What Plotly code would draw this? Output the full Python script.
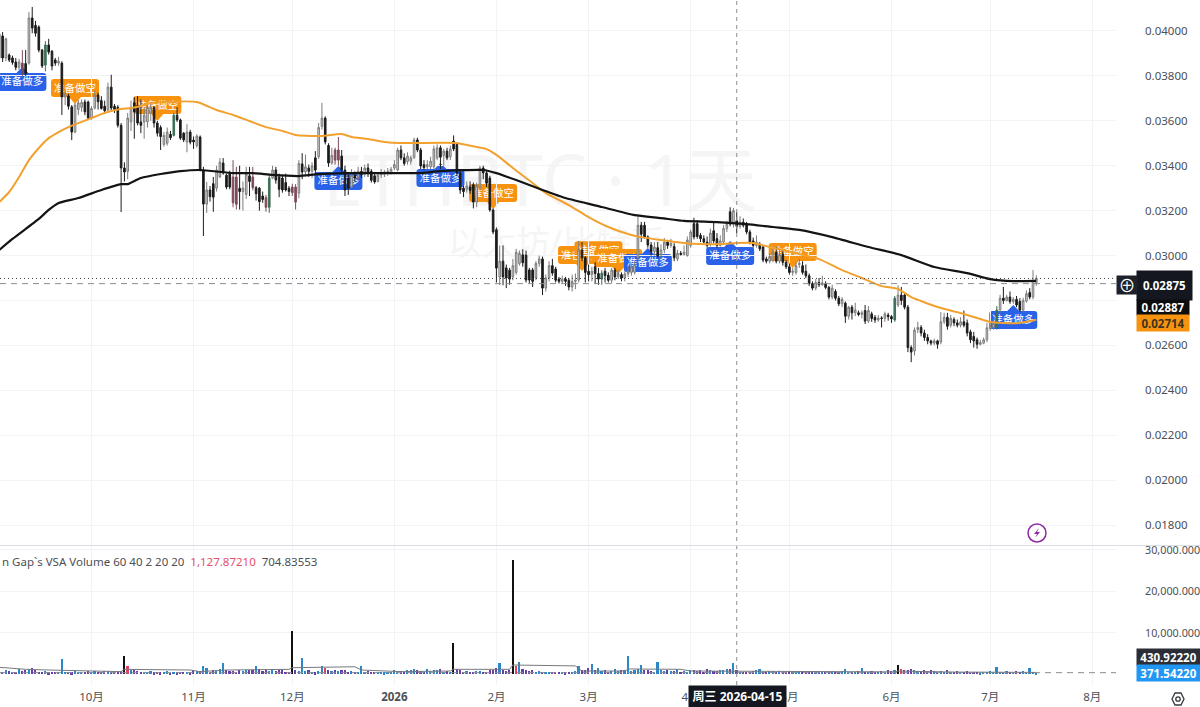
import pandas as pd
import plotly.graph_objects as go

# Daily ETH/BTC candles, quoted in units of 0.00001 BTC, starting 2025-09-03
first_day = "2025-09-03"
price_unit = 1e-5

opens = [
    3880,3978,3880,3893,3880,3862,3838,3857,3855,3857,
    4058,4025,4018,3915,3848,3938,3910,3871,3857,3857,
    3706,3710,3662,3550,3650,3660,3684,3684,3612,3657,
    3715,3690,3665,3648,3750,3665,3660,3580,3390,3375,
    3595,3680,3668,3595,3595,3595,3635,3660,3590,3570,
    3495,3500,3540,3535,3625,3604,3545,3505,3550,3514,
    3490,3528,3381,3229,3292,3320,3300,3350,3412,3358,
    3365,3350,3350,3300,3285,3272,3355,3350,3302,3300,
    3265,3258,3215,3345,3381,3350,3345,3325,3300,3305,
    3305,3278,3408,3372,3390,3375,3435,3440,3575,3612,
    3490,3412,3470,3425,3443,3381,3345,3305,3358,3345,
    3375,3362,3390,3375,3355,3330,3360,3362,3368,3370,
    3390,3381,3470,3435,3418,3420,3437,3515,3470,3405,
    3395,3395,3395,3435,3480,3445,3465,3440,3510,3495,
    3368,3300,3295,3305,3315,3238,3302,3390,3368,3345,
    3203,3115,2905,2975,2945,2935,2905,2925,2965,3003,
    3002,2936,2936,2900,2965,2985,2855,2900,2955,2940,
    2895,2885,2895,2890,2860,2885,2891,3025,2990,2930,
    2915,2950,2920,2895,2930,2912,2890,2935,2905,2915,
    2900,2918,2925,2925,2990,3135,3135,3083,3047,3018,
    3035,3003,3025,3060,3045,3040,2985,3010,3005,3000,
    3045,3142,3142,3090,3075,3060,3052,3110,3075,3045,
    3060,3120,3195,3140,3155,3130,3148,3140,3105,3065,
    3045,3050,3038,2985,2975,2980,3015,2975,3005,2970,
    2950,2925,2925,2960,2955,2930,2910,2875,2855,2880,
    2870,2875,2858,2815,2840,2810,2785,2788,2730,2770,
    2745,2745,2738,2755,2708,2740,2725,2713,2722,2720,
    2735,2728,2713,2780,2824,2824,2770,2590,2575,2670,
    2680,2655,2635,2620,2610,2620,2615,2705,2725,2690,
    2715,2700,2690,2705,2700,2660,2640,2625,2605,2610,
    2625,2675,2680,2678,2758,2810,2800,2815,2795,2805,
    2795,2757,2797,2835,2815,2880,
]
closes = [
    3987,3880,3965,3871,3860,3838,3862,3808,3810,4058,
    4013,3990,3915,3844,3938,3906,3844,3857,3865,3706,
    3720,3665,3550,3670,3680,3682,3640,3612,3655,3715,
    3685,3655,3645,3750,3657,3650,3580,3390,3372,3612,
    3660,3640,3590,3580,3625,3660,3660,3590,3545,3530,
    3535,3550,3525,3625,3604,3523,3515,3550,3505,3506,
    3532,3381,3229,3292,3262,3260,3381,3416,3368,3305,
    3305,3235,3228,3285,3300,3363,3330,3302,3275,3240,
    3250,3215,3345,3381,3336,3295,3292,3292,3285,3280,
    3238,3410,3372,3395,3375,3400,3381,3570,3612,3506,
    3412,3446,3425,3470,3381,3292,3300,3358,3345,3375,
    3360,3390,3365,3335,3328,3358,3365,3372,3375,3384,
    3405,3470,3435,3410,3443,3435,3515,3470,3399,3392,
    3405,3420,3475,3480,3438,3465,3435,3475,3475,3368,
    3292,3285,3310,3290,3238,3312,3390,3368,3322,3203,
    3105,2944,2975,2905,2900,2895,2955,3015,3010,2968,
    2891,2891,2885,2965,2985,2855,2900,2955,2922,2890,
    2885,2895,2885,2860,2885,2890,3025,2990,2925,2915,
    2930,2920,2895,2922,2910,2890,2935,2905,2920,2900,
    2918,2930,2950,2960,3135,3095,3083,3047,3018,3038,
    2998,3025,3060,3045,3055,2990,3010,3005,3015,3069,
    3105,3083,3085,3075,3060,3045,3100,3065,3045,3065,
    3120,3140,3140,3200,3130,3150,3135,3105,3060,3045,
    3060,3030,2980,2975,2995,3015,2975,3005,2970,2950,
    2925,2930,2955,2965,2925,2910,2875,2855,2880,2870,
    2878,2858,2815,2855,2810,2785,2805,2730,2770,2745,
    2758,2738,2745,2708,2755,2720,2713,2722,2720,2740,
    2728,2718,2810,2824,2800,2770,2590,2570,2668,2680,
    2655,2635,2620,2610,2620,2605,2705,2725,2685,2720,
    2700,2690,2705,2690,2655,2625,2620,2605,2612,2625,
    2678,2688,2698,2758,2810,2800,2815,2795,2805,2780,
    2757,2800,2830,2815,2888,2898,
]
highs = [
    3995,3995,3970,3900,3890,3880,3875,3915,3915,4085,
    4107,4045,4025,3920,3955,3965,3915,3880,3885,3865,
    3730,3720,3670,3680,3693,3695,3695,3690,3665,3735,
    3725,3710,3690,3770,3805,3675,3670,3590,3415,3635,
    3690,3705,3710,3695,3660,3680,3685,3665,3600,3580,
    3550,3570,3555,3635,3660,3610,3550,3585,3560,3530,
    3540,3535,3395,3328,3310,3350,3400,3434,3434,3365,
    3378,3425,3395,3400,3330,3395,3395,3395,3310,3305,
    3285,3270,3360,3400,3395,3365,3360,3365,3310,3320,
    3318,3425,3456,3450,3405,3415,3465,3590,3680,3620,
    3500,3480,3480,3528,3470,3400,3360,3385,3375,3395,
    3395,3405,3410,3385,3365,3370,3385,3380,3390,3395,
    3425,3480,3490,3455,3460,3445,3525,3525,3480,3425,
    3425,3440,3490,3495,3490,3475,3480,3490,3535,3505,
    3378,3310,3330,3330,3325,3325,3400,3400,3378,3355,
    3210,3125,3045,3045,2960,2945,2985,3030,3022,3028,
    3022,2945,2945,2975,3000,2995,2915,2975,2985,2950,
    2905,2910,2905,2900,2915,2920,3065,3060,2998,2960,
    2950,2970,2945,2935,2945,2925,2945,2945,2935,2925,
    2930,2950,2965,2975,3175,3150,3150,3090,3060,3060,
    3060,3050,3078,3070,3075,3055,3025,3020,3045,3085,
    3115,3168,3158,3100,3090,3085,3120,3150,3100,3090,
    3135,3155,3215,3212,3195,3175,3165,3150,3115,3080,
    3090,3060,3045,2995,3010,3040,3040,3025,3025,2980,
    2965,2945,2970,2985,2975,2960,2920,2885,2895,2900,
    2910,2885,2865,2870,2850,2820,2815,2795,2775,2780,
    2790,2755,2755,2780,2775,2750,2735,2735,2730,2750,
    2745,2735,2820,2867,2860,2835,2780,2600,2680,2705,
    2690,2670,2650,2625,2630,2625,2748,2745,2745,2735,
    2725,2715,2725,2755,2715,2670,2660,2635,2625,2635,
    2700,2705,2720,2775,2825,2860,2825,2840,2815,2820,
    2810,2812,2845,2855,2935,2912,
]
lows = [
    3865,3862,3865,3862,3850,3825,3825,3800,3800,3850,
    3990,3975,3905,3835,3820,3895,3825,3845,3845,3626,
    3670,3650,3514,3545,3625,3640,3625,3605,3605,3650,
    3650,3650,3630,3640,3645,3635,3570,3194,3330,3340,
    3555,3520,3580,3545,3520,3570,3600,3570,3530,3470,
    3485,3490,3515,3530,3595,3515,3505,3460,3495,3475,
    3480,3375,3087,3190,3240,3195,3285,3345,3360,3295,
    3295,3215,3205,3205,3200,3252,3265,3290,3245,3200,
    3235,3195,3190,3340,3320,3260,3280,3285,3265,3265,
    3205,3255,3340,3360,3350,3345,3360,3430,3560,3495,
    3395,3405,3405,3400,3360,3265,3270,3300,3330,3330,
    3345,3350,3350,3325,3320,3325,3345,3350,3355,3360,
    3380,3375,3425,3400,3405,3405,3430,3460,3385,3380,
    3385,3385,3385,3425,3385,3400,3425,3425,3465,3355,
    3275,3260,3280,3275,3210,3215,3290,3340,3305,3195,
    3095,2880,2868,2868,2855,2870,2890,2915,2955,2950,
    2880,2878,2860,2890,2950,2824,2840,2885,2910,2880,
    2875,2875,2865,2845,2840,2850,2880,2975,2880,2885,
    2885,2875,2870,2870,2880,2880,2875,2890,2895,2885,
    2885,2905,2910,2915,2980,3060,3075,3035,3000,3000,
    2990,2985,3010,3030,3035,2975,2975,3000,3000,2995,
    3035,3072,3075,3060,3050,3035,3040,3055,3035,3040,
    3050,3105,3130,3125,3100,3120,3125,3095,3050,3035,
    3035,3020,2970,2965,2965,2970,2965,2965,2955,2940,
    2915,2910,2915,2945,2915,2900,2865,2845,2845,2860,
    2865,2850,2805,2805,2800,2775,2770,2700,2715,2715,
    2730,2730,2720,2695,2700,2705,2700,2705,2680,2705,
    2710,2700,2705,2770,2780,2760,2570,2525,2555,2655,
    2640,2620,2605,2600,2600,2585,2605,2695,2670,2680,
    2685,2680,2680,2680,2640,2610,2590,2585,2600,2605,
    2615,2665,2670,2670,2745,2785,2795,2785,2785,2770,
    2750,2750,2790,2805,2805,2865,
]
# Candles picked out by the VSA colouring
mauve_candles = [7, 71, 72, 77, 81, 89, 90, 102, 103]
green_candles = [14, 53, 82, 183, 272, 303]

# Slow moving averages, as (day number, level) pairs
orange_days = [0,3,6,9,12,15,18,21,24,28,31,34,37,40,43,46,50,60,66,71,76,81,86,90,97,104,107,112,117,122,
               139,142,148,151,156,162,166,173,179,185,191,195,201,208,213,219,224,229,234,249,256,262,268,273,
               277,285,291,297,301,309,315]
orange_levels = [3238,3283,3350,3425,3479,3523,3550,3572,3590,3612,3630,3644,3653,3657,3666,3679,3684,3684,3648,3626,
                 3599,3572,3555,3537,3532,3541,3528,3519,3506,3501,3501,3492,3474,3448,3390,3323,3278,3225,3171,3127,
                 3096,3082,3069,3056,3051,3051,3056,3056,3038,2984,2935,2900,2864,2851,2815,2771,2748,2722,2704,2699,2714]
black_days = [0,4,12,15,18,24,31,37,39,43,49,55,61,71,77,83,91,97,106,122,128,134,147,151,157,165,172,183,193,201,208,
              218,227,235,243,253,264,274,284,294,301,308,315]
black_levels = [3025,3074,3163,3203,3234,3256,3292,3318,3318,3345,3363,3376,3381,3367,3367,3359,3354,3363,3367,3367,
                3367,3376,3381,3367,3336,3292,3256,3216,3180,3167,3154,3149,3140,3127,3114,3082,3038,3002,2949,2922,
                2895,2886,2887]

# Volume, one bar per candle
volumes = [
    800,650,900,700,520,600,1250,760,980,1300,1400,900,520,640,700,480,560,620,500,3600,
    520,610,480,760,540,490,640,700,510,880,600,520,670,800,560,610,640,720,4300,2100,
    900,1300,750,580,600,540,760,430,520,480,650,720,400,560,470,640,520,610,450,1100,
    700,880,1900,1500,640,900,780,1200,2700,900,760,840,620,950,780,1000,900,1100,1900,1300,
    700,980,860,1050,760,900,1200,640,520,10400,1000,860,3900,720,1100,540,460,820,2100,1500,
    1000,860,900,760,1000,960,620,780,640,520,2100,580,700,640,520,490,610,470,520,560,
    900,640,820,560,1100,980,1200,1100,720,580,1300,760,900,1000,1200,640,760,580,7500,1200,
    900,640,760,520,610,870,780,640,520,900,1100,1400,2600,1000,860,1100,27500,2000,2900,1200,
    900,760,1100,560,820,640,580,500,640,520,610,490,460,600,520,700,2000,1100,1000,1500,
    2400,1100,1600,760,900,640,700,1300,720,900,1000,4500,840,1000,1300,2300,1100,1000,760,640,
    2900,900,760,1000,860,720,1300,640,760,600,1000,900,660,1100,560,1200,1000,700,800,900,
    900,1200,1300,2600,900,620,500,640,560,700,900,1300,640,520,740,880,600,720,560,640,
    700,600,520,640,800,540,620,760,580,700,640,520,600,760,560,640,700,1200,520,640,
    580,700,1500,560,620,760,520,640,800,560,1000,700,900,2200,1300,1000,900,1200,1100,800,
    760,900,620,1000,860,640,700,520,940,620,560,700,640,540,700,580,600,520,480,620,
    640,720,580,1700,560,640,720,500,620,680,560,740,640,1500,600,371.5422,
]
black_bars = [38, 89, 138, 156, 273]
red_bars = [39, 99, 157, 274]
blue_bars = [19, 62, 68, 78, 92, 98, 110, 152, 158, 176, 180, 182, 187, 191, 195, 200, 223, 231, 257, 262, 303, 313]

# Volume average line
volavg_days = [0,8,15,37,38,58,61,69,88,89,108,110,122,137,138,155,156,175,177,190,191,207,210,226,243,272,273,290,315]
volavg_levels = [1660,1180,1010,620,1180,1010,620,1010,1180,1570,1800,1010,620,770,1180,1180,2220,2000,770,770,1260,
                 1180,770,700,600,560,760,520,430.9222]

# Trade signals: day number, level and side
signal_days = [7, 23, 48, 103, 134, 150, 177, 182, 188, 197, 222, 241, 308]
signal_levels = [3773, 3746, 3670, 3332, 3345, 3278, 3002, 3024, 2989, 2967, 2998, 3016, 2713]
signal_sides = ["long", "short", "short", "long", "long", "short", "short", "short", "short", "long", "long", "short", "long"]
signal_text = {"long": "准备做多", "short": "准备做空"}
signal_fill = {"long": "#2962e8", "short": "#f7930f"}

month_ticks = ["2025-10-01", "2025-11-01", "2025-12-01", "2026-01-01", "2026-02-01", "2026-03-01",
               "2026-04-01", "2026-05-01", "2026-06-01", "2026-07-01", "2026-08-01"]
month_labels = ["10月", "11月", "12月", "<b>2026</b>", "2月", "3月", "4月", "5月", "6月", "7月", "8月"]
price_ticks = [0.04, 0.038, 0.036, 0.034, 0.032, 0.03, 0.028, 0.026, 0.024, 0.022, 0.02, 0.018]
# 0.02800 sits under the price tags, so that grid line carries no label
price_labels = ["0.04000", "0.03800", "0.03600", "0.03400", "0.03200", "0.03000", "",
                "0.02600", "0.02400", "0.02200", "0.02000", "0.01800"]
volume_ticks = [10_000, 20_000, 30_000]

crosshair_day = "2026-04-15"
crosshair_price = 0.02875
last_price = 0.02898
last_volume = 371.5422

assert len({len(opens), len(closes), len(highs), len(lows), len(volumes)}) == 1
n = len(closes)
dates = pd.date_range(first_day, periods=n, freq="D")
days = [d.strftime("%Y-%m-%d") for d in dates]
price = lambda seq: [v * price_unit for v in seq]

BODY_W, BODY_H, PANE_W = 1200, 707, 1116
PANE_H = 685
px = lambda x: x / PANE_W
py = lambda y: 1 - y / PANE_H
FONT = "Noto Sans, Noto Sans CJK SC, sans-serif"
GRID = "#f1f3f7"
TEXT = "#4d4f55"

fig = go.Figure()


def add_candles(idx, up_line, up_fill, down_line, down_fill, name):
    fig.add_trace(go.Candlestick(
        x=[days[i] for i in idx],
        open=[opens[i] * price_unit for i in idx],
        high=[highs[i] * price_unit for i in idx],
        low=[lows[i] * price_unit for i in idx],
        close=[closes[i] * price_unit for i in idx],
        name=name, showlegend=False, whiskerwidth=0,
        increasing=dict(line=dict(color=up_line, width=1), fillcolor=up_fill),
        decreasing=dict(line=dict(color=down_line, width=1), fillcolor=down_fill),
        xaxis="x", yaxis="y",
    ))


special = set(mauve_candles) | set(green_candles)
add_candles([i for i in range(n) if i not in special], "#7c7c7c", "#d4d4d4", "#1c1c1c", "#1c1c1c", "ETHBTC")
add_candles(mauve_candles, "#7d4a5c", "#7d4a5c", "#7d4a5c", "#7d4a5c", "ETHBTC")
add_candles(green_candles, "#3e6f58", "#3e6f58", "#3e6f58", "#3e6f58", "ETHBTC")

fig.add_trace(go.Scatter(x=[days[i] for i in orange_days], y=price(orange_levels), mode="lines",
                         line=dict(color="#f2a12e", width=2, shape="spline", smoothing=0.5),
                         showlegend=False, xaxis="x", yaxis="y"))
fig.add_trace(go.Scatter(x=[days[i] for i in black_days], y=price(black_levels), mode="lines",
                         line=dict(color="#141414", width=2.2, shape="spline", smoothing=0.5),
                         showlegend=False, xaxis="x", yaxis="y"))


def bar_colour(i):
    if i in black_bars:
        return "#111111"
    if i in red_bars:
        return "#e4405f"
    if i in blue_bars or closes[i] >= opens[i]:
        return "#2a87c9"
    return "#6a3fa5"


fig.add_trace(go.Bar(x=days, y=volumes, width=86400000 * 0.5,
                     marker=dict(color=[bar_colour(i) for i in range(n)], line=dict(width=0)),
                     showlegend=False, xaxis="x2", yaxis="y2"))
fig.add_trace(go.Scatter(x=[days[i] for i in volavg_days], y=volavg_levels, mode="lines",
                         line=dict(color="#77797e", width=1), showlegend=False, xaxis="x2", yaxis="y2"))

shapes = []
annotations = []


def corner_box(half_w, half_h, r, pointer):
    top = f"L{half_w-r},{half_h} "
    if pointer == "long":
        top = f"L-6,{half_h} L0,{half_h+6} L6,{half_h} " + top
    bottom = f"L{-half_w+r},{-half_h} "
    if pointer == "short":
        bottom = f"L6,{-half_h} L0,{-half_h-7} L-6,{-half_h} " + bottom
    return (f"M{-half_w+r},{half_h} " + top +
            f"Q{half_w},{half_h} {half_w},{half_h-r} L{half_w},{-half_h+r} "
            f"Q{half_w},{-half_h} {half_w-r},{-half_h} " + bottom +
            f"Q{-half_w},{-half_h} {-half_w},{-half_h+r} L{-half_w},{half_h-r} "
            f"Q{-half_w},{half_h} {-half_w+r},{half_h} Z")


half_day_span = pd.Timedelta(days=7.3)
half_level_span = 40 * price_unit
for d, lvl, side in zip(signal_days, signal_levels, signal_sides):
    shapes.append(dict(type="path", xref="x", yref="y", xsizemode="pixel", ysizemode="pixel",
                       xanchor=days[d], yanchor=lvl * price_unit, layer="below",
                       path=corner_box(24, 9, 3, side), fillcolor=signal_fill[side], line=dict(width=0)))
    shapes.append(dict(type="rect", xref="x", yref="y", layer="below",
                       x0=dates[d] - half_day_span, x1=dates[d] + half_day_span,
                       y0=lvl * price_unit - half_level_span, y1=lvl * price_unit + half_level_span,
                       fillcolor="rgba(0,0,0,0)", line=dict(width=0),
                       label=dict(text=signal_text[side], textposition="middle center",
                                  font=dict(color="white", size=10.5, family=FONT))))

# Faint symbol watermark behind the candles
for text, cx, cy, size in [("ETHBTC · 1天", 540, 183, 72), ("以太坊/比特币", 556, 244, 34)]:
    shapes.append(dict(type="rect", xref="paper", yref="paper", x0=px(cx - 300), x1=px(cx + 300),
                       y0=py(cy + 40), y1=py(cy - 40), layer="below", line=dict(width=0),
                       fillcolor="rgba(0,0,0,0)",
                       label=dict(text=text, textposition="middle center",
                                  font=dict(color="#f5f5f6", size=size, family=FONT))))

# Crosshair, last-price and volume guide lines, pane separator
guide_dash = "4px,4px"
shapes += [
    dict(type="line", xref="x", yref="paper", x0=crosshair_day, x1=crosshair_day, y0=0, y1=1,
         line=dict(color="#8a8d94", width=1, dash=guide_dash)),
    dict(type="line", xref="paper", yref="y", x0=0, x1=1, y0=crosshair_price, y1=crosshair_price,
         line=dict(color="#8a8d94", width=1, dash="6px,5px")),
    dict(type="line", xref="paper", yref="y", x0=0, x1=1, y0=last_price, y1=last_price,
         line=dict(color="#3a3d42", width=1, dash="1px,3px")),
    dict(type="line", xref="paper", yref="y2", x0=0, x1=1, y0=last_volume, y1=last_volume,
         line=dict(color="#8a8d94", width=1, dash="6px,5px")),
    dict(type="line", xref="paper", yref="paper", x0=0, x1=1200 / PANE_W, y0=py(545.5), y1=py(545.5),
         line=dict(color="#dcdee3", width=1)),
    # Alert badge: ring with a lightning bolt
    dict(type="circle", xref="paper", yref="paper", x0=px(1028), x1=px(1046), y0=py(542), y1=py(524),
         line=dict(color="#8e2aa3", width=1.5), fillcolor="white"),
    dict(type="path", xref="paper", yref="paper", xsizemode="pixel", ysizemode="pixel",
         xanchor=px(1037), yanchor=py(533), path="M2,5 L-3,-1 L0,-1 L-2,-5 L3,1 L0,1 Z",
         line=dict(width=0), fillcolor="#8e2aa3"),
    # Settings button
    dict(type="path", xref="paper", yref="paper", xsizemode="pixel", ysizemode="pixel",
         xanchor=px(1178), yanchor=py(699), path="M-6,0 L-3,6 L3,6 L6,0 L3,-6 L-3,-6 Z",
         line=dict(color="#35383f", width=1.3), fillcolor="white"),
    dict(type="circle", xref="paper", yref="paper", xsizemode="pixel", ysizemode="pixel",
         xanchor=px(1178), yanchor=py(699), x0=-2.2, x1=2.2, y0=-2.2, y1=2.2,
         line=dict(color="#35383f", width=1.3)),
]


def tag(text, x0, x1, y0, y1, bg, fg="white", size=11.5, bold=True):
    annotations.append(dict(
        xref="paper", yref="paper", x=px((x0 + x1) / 2), y=py((y0 + y1) / 2),
        xanchor="center", yanchor="middle", showarrow=False,
        width=x1 - x0, height=y1 - y0, bgcolor=bg, borderpad=0, align="center", valign="middle",
        text=f"<b>{text}</b>" if bold else text,
        font=dict(color=fg, size=size, family=FONT),
    ))


tag("0.02875", 1137, 1192, 271, 300, "#14171f")
tag("⊕", 1117, 1137, 276, 294, "#1d2129", size=17, bold=False)
tag("0.02887", 1137, 1189, 300, 315, "#0d0d0f")
tag("0.02714", 1137, 1189, 315, 331, "#f7930f", fg="#3b3320")
tag("430.92220", 1137, 1200, 649, 665, "#2b2e36")
tag("371.54220", 1137, 1200, 665, 681, "#2196f3")
tag("周三 2026-04-15", 689, 786, 686, 707, "#14171f", size=12)

annotations.append(dict(
    xref="paper", yref="paper", x=0, y=py(561), xanchor="left", yanchor="middle", showarrow=False,
    text="n Gap`s VSA Volume 60 40 2 20 20&nbsp;&nbsp;<span style='color:#e4506a'>1,127.87210</span>"
         "&nbsp;&nbsp;704.83553",
    font=dict(color=TEXT, size=11.5, family=FONT),
))

axis_font = dict(color=TEXT, size=11.5, family=FONT)
fig.update_layout(
    width=BODY_W, height=BODY_H, autosize=False,
    margin=dict(l=0, r=BODY_W - PANE_W, t=0, b=BODY_H - PANE_H, autoexpand=False),
    paper_bgcolor="white", plot_bgcolor="white", showlegend=False, dragmode=False,
    shapes=shapes, annotations=annotations, bargap=0,
    xaxis=dict(domain=[0, 1], anchor="y", type="date", range=["2025-09-03 05:00", "2026-08-08 05:00"],
               rangeslider=dict(visible=False), tickvals=month_ticks, ticktext=month_labels, automargin=False,
               showticklabels=False, showgrid=True, gridcolor=GRID, gridwidth=1, zeroline=False, ticks=""),
    xaxis2=dict(domain=[0, 1], anchor="y2", type="date", matches="x", rangeslider=dict(visible=False),
                tickvals=month_ticks, ticktext=month_labels, showgrid=True, gridcolor=GRID, automargin=False,
                zeroline=False, ticks="", ticklabelstandoff=3, tickfont=axis_font),
    yaxis=dict(domain=[1 - 545 / PANE_H, 1], anchor="x", side="right", range=[0.01711, 0.04138], automargin=False,
               tickvals=price_ticks, ticktext=price_labels, ticklabelstandoff=28, tickfont=axis_font,
               showgrid=True, gridcolor=GRID, zeroline=False, ticks="", showline=False),
    yaxis2=dict(domain=[0, 1 - 546 / PANE_H], anchor="x2", side="right", range=[-2600, 30900], automargin=False,
                tickvals=volume_ticks, tickformat=",.3f", ticklabelstandoff=28,
                tickfont=dict(color=TEXT, size=10.8, family=FONT),
                showgrid=True, gridcolor=GRID, zeroline=False, ticks="", showline=False),
)

fig.write_html("out.html", config=dict(displayModeBar=False))
